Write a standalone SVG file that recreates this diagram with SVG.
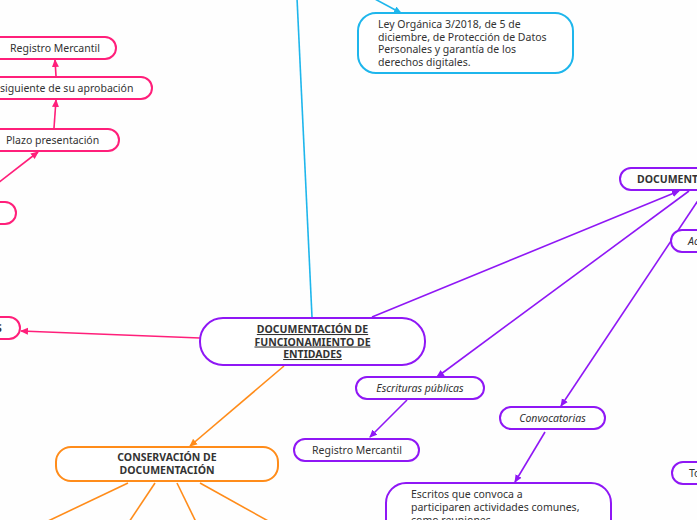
<svg xmlns="http://www.w3.org/2000/svg" width="697" height="520" viewBox="0 0 697 520">
<style>
  .t { font-family: "Noto Sans", "Liberation Sans", sans-serif; font-size: 10.5px; fill: #333; }
  .b { font-weight: bold; }
  .i { font-style: italic; }
  .box { fill: #fff; stroke-width: 2; }
  .pk { stroke: #ff1f7a; }
  .cy { stroke: #1eb6ec; }
  .pu { stroke: #8f17f5; }
  .or { stroke: #ff8c1a; }
  .ln { fill: none; stroke-width: 1.6; }
</style>
<defs>
  <marker id="apk" markerUnits="userSpaceOnUse" markerWidth="8" markerHeight="8" refX="7" refY="4" orient="auto"><path d="M0,0.5 L8,4 L0,7.5 z" fill="#ff1f7a"/></marker>
  <marker id="acy" markerUnits="userSpaceOnUse" markerWidth="8" markerHeight="8" refX="7" refY="4" orient="auto"><path d="M0,0.5 L8,4 L0,7.5 z" fill="#1eb6ec"/></marker>
  <marker id="apu" markerUnits="userSpaceOnUse" markerWidth="8" markerHeight="8" refX="7" refY="4" orient="auto"><path d="M0,0.5 L8,4 L0,7.5 z" fill="#8f17f5"/></marker>
  <marker id="aor" markerUnits="userSpaceOnUse" markerWidth="8" markerHeight="8" refX="7" refY="4" orient="auto"><path d="M0,0.5 L8,4 L0,7.5 z" fill="#ff8c1a"/></marker>
</defs>
<rect width="697" height="520" fill="#fefefe"/>
<g id="connectors">
  <line class="ln pk" x1="200" y1="338" x2="21" y2="331" marker-end="url(#apk)"/>
  <line class="ln pk" x1="-2" y1="183" x2="38" y2="152" marker-end="url(#apk)"/>
  <line class="ln pk" x1="54" y1="128" x2="56" y2="100" marker-end="url(#apk)"/>
  <line class="ln pk" x1="56" y1="76" x2="55" y2="60" marker-end="url(#apk)"/>
  <line class="ln cy" x1="312" y1="317" x2="297" y2="-2"/>
  <line class="ln cy" x1="373" y1="-2" x2="401" y2="13" marker-end="url(#acy)"/>
  <line class="ln pu" x1="372" y1="317" x2="679" y2="191" marker-end="url(#apu)"/>
  <line class="ln pu" x1="689" y1="191" x2="437" y2="377" marker-end="url(#apu)"/>
  <line class="ln pu" x1="705" y1="190" x2="561" y2="406" marker-end="url(#apu)"/>
  <line class="ln pu" x1="407" y1="400" x2="370" y2="437" marker-end="url(#apu)"/>
  <line class="ln pu" x1="545" y1="432" x2="515" y2="482" marker-end="url(#apu)"/>
  <line class="ln or" x1="284" y1="366" x2="190" y2="446" marker-end="url(#aor)"/>
  <line class="ln or" x1="128" y1="483" x2="46" y2="522"/>
  <line class="ln or" x1="155" y1="483" x2="129" y2="522"/>
  <line class="ln or" x1="177" y1="483" x2="196" y2="522"/>
  <line class="ln or" x1="200" y1="483" x2="270" y2="522"/>
</g>
<g id="n-registro-top">
  <rect class="box pk" x="-30" y="37" width="146" height="22" rx="11"/>
  <text class="t" x="55" y="51.5" text-anchor="middle">Registro Mercantil</text>
</g>
<g id="n-siguiente">
  <rect class="box pk" x="-30" y="77" width="182" height="22" rx="11"/>
  <text class="t" x="0" y="91.5">siguiente de su aprobación</text>
</g>
<g id="n-plazo">
  <rect class="box pk" x="-30" y="129" width="149" height="22" rx="11"/>
  <text class="t" x="6" y="143.5">Plazo presentación</text>
</g>
<g id="n-pink-empty">
  <rect class="box pk" x="-30" y="202" width="46" height="22" rx="11"/>
</g>
<g id="n-pink-s">
  <rect class="box pk" x="-30" y="317" width="50" height="22" rx="11"/>
  <text class="t b" x="-4" y="331.5">S</text>
</g>
<g id="n-central">
  <rect class="box pu" x="200" y="318" width="225" height="47" rx="23"/>
  <text class="t b" x="312.5" y="333" text-anchor="middle" text-decoration="underline">DOCUMENTACIÓN DE</text>
  <text class="t b" x="312.5" y="345.5" text-anchor="middle" text-decoration="underline">FUNCIONAMIENTO DE</text>
  <text class="t b" x="312.5" y="358" text-anchor="middle" text-decoration="underline">ENTIDADES</text>
</g>
<g id="n-ley">
  <rect class="box cy" x="358" y="13" width="215" height="60" rx="18"/>
  <text class="t" x="378" y="28">Ley Orgánica 3/2018, de 5 de</text>
  <text class="t" x="378" y="40.5">diciembre, de Protección de Datos</text>
  <text class="t" x="378" y="53">Personales y garantía de los</text>
  <text class="t" x="378" y="65.5">derechos digitales.</text>
</g>
<g id="n-documento">
  <rect class="box pu" x="620" y="168" width="110" height="22" rx="11"/>
  <text class="t b" x="637" y="182.5">DOCUMENTO</text>
</g>
<g id="n-ac">
  <rect class="box pu" x="671" y="230" width="60" height="22" rx="11"/>
  <text class="t i" x="688" y="244.5">Ac</text>
</g>
<g id="n-escrituras">
  <rect class="box pu" x="356" y="377" width="128" height="22" rx="11"/>
  <text class="t i" x="420" y="391.5" text-anchor="middle">Escrituras públicas</text>
</g>
<g id="n-registro-pu">
  <rect class="box pu" x="294" y="439" width="125" height="22" rx="11"/>
  <text class="t" x="357" y="453.5" text-anchor="middle">Registro Mercantil</text>
</g>
<g id="n-convocatorias">
  <rect class="box pu" x="500" y="407" width="105" height="22" rx="11"/>
  <text class="t i" x="552.5" y="421.5" text-anchor="middle">Convocatorias</text>
</g>
<g id="n-escritos">
  <rect class="box pu" x="386" y="483" width="225" height="60" rx="20"/>
  <text class="t" x="411" y="498">Escritos que convoca a</text>
  <text class="t" x="411" y="511">participaren actividades comunes,</text>
  <text class="t" x="411" y="524">como reuniones.</text>
</g>
<g id="n-to">
  <rect class="box pu" x="672" y="462" width="60" height="22" rx="11"/>
  <text class="t" x="689" y="476.5">To</text>
</g>
<g id="n-conservacion">
  <rect class="box or" x="56" y="447" width="222" height="34" rx="15"/>
  <text class="t b" x="167" y="461" text-anchor="middle">CONSERVACIÓN DE</text>
  <text class="t b" x="167" y="474" text-anchor="middle">DOCUMENTACIÓN</text>
</g>
</svg>
